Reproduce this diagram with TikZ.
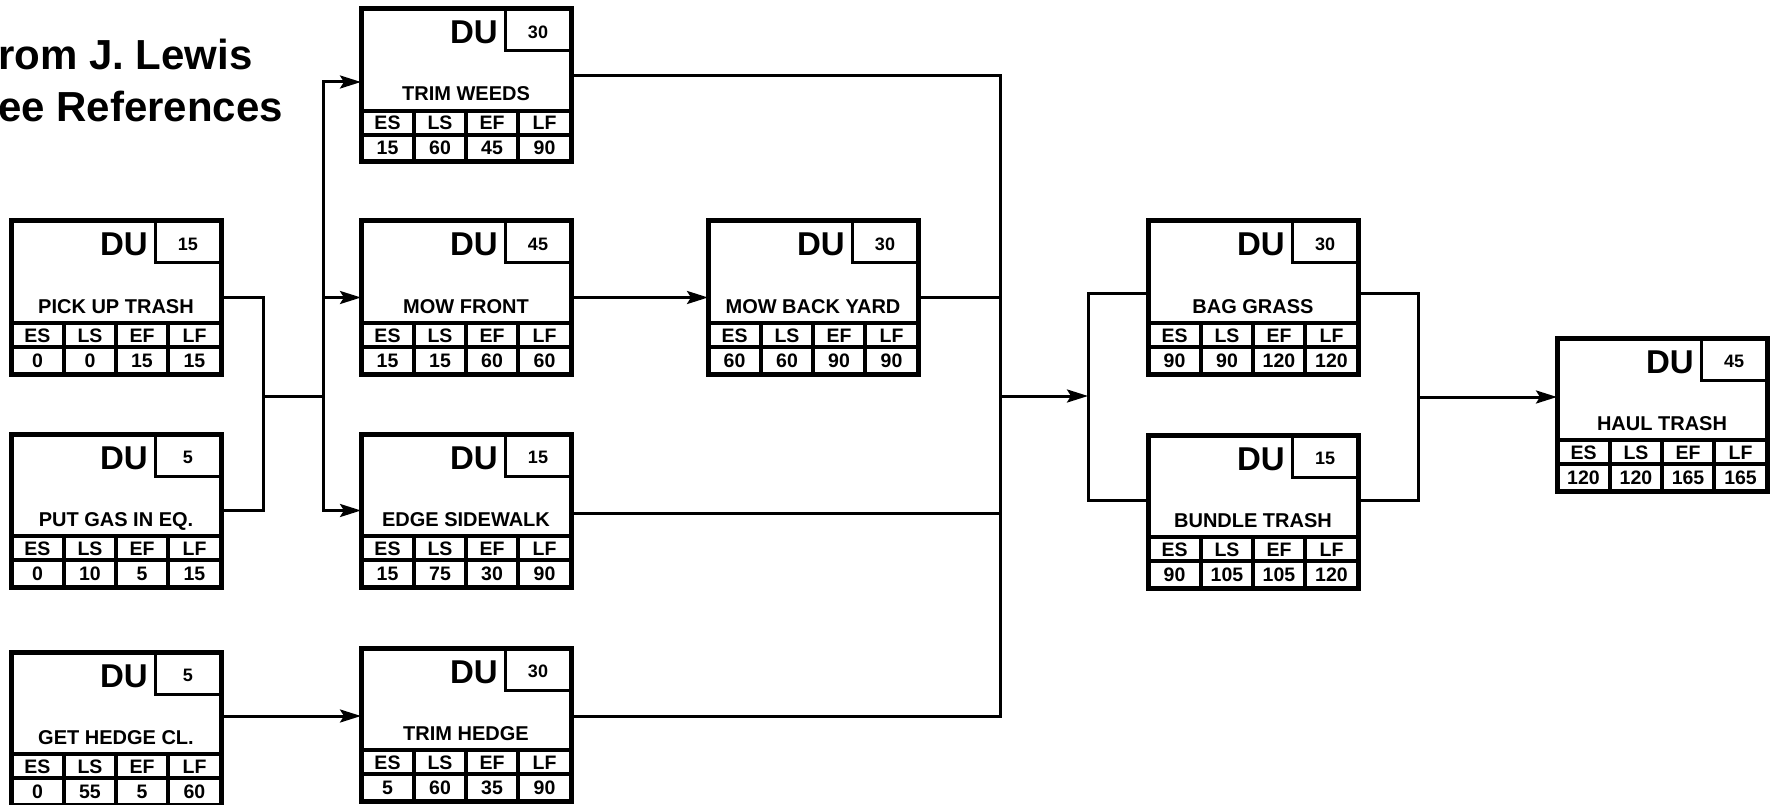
\documentclass[tikz,border=0pt]{standalone}
\usepackage{fontspec}
\setmainfont{Liberation Sans}
\usetikzlibrary{arrows.meta,calc}
\tikzset{
  abox/.style={draw, line width=5pt, fill=white, minimum width=210pt, minimum height=153pt,
    inner sep=0pt, outer sep=0pt, anchor=north west},
  dubox/.style={line width=3pt},
  tbl/.style={line width=4pt},
  dutxt/.style={anchor=base east, inner sep=0pt, font=\bfseries\fontsize{33}{33}\selectfont},
  durtxt/.style={anchor=base, inner sep=0pt, font=\bfseries\fontsize{18}{18}\selectfont},
  nametxt/.style={anchor=base, inner sep=0pt, font=\bfseries\fontsize{20}{20}\selectfont},
  celltxt/.style={anchor=base, inner sep=0pt, font=\bfseries\fontsize{19.5}{19.5}\selectfont},
  titletxt/.style={anchor=base west, inner sep=0pt, font=\bfseries\fontsize{42}{42}\selectfont},
  conn/.style={line width=3pt},
  arr/.style={conn, -{Stealth[length=21pt,width=13pt,inset=4pt]}}
}
\newcommand\actbox[9]{%
  \node[abox] (#1) at (#2,#3) {};
  \begin{scope}[shift={(#2,#3)}]
    \draw[dubox] (144,0) |- (210,42);
    \draw[tbl] (0,102) -- (210,102) (0,126) -- (210,126)
      (53,102) -- (53,153) (105,102) -- (105,153) (157,102) -- (157,153);
    \node[dutxt] (#1du) at (137,35) {DU};
    \node[durtxt] (#1d) at (177,29.5) {#4};
    \node[nametxt] (#1n) at (105,92) {#5};
    \node[celltxt] (#1ha) at (26.5,121) {ES};
    \node[celltxt] (#1hb) at (79,121) {LS};
    \node[celltxt] (#1hc) at (131,121) {EF};
    \node[celltxt] (#1hd) at (183.5,121) {LF};
    \node[celltxt] (#1va) at (26.5,146) {#6};
    \node[celltxt] (#1vb) at (79,146) {#7};
    \node[celltxt] (#1vc) at (131,146) {#8};
    \node[celltxt] (#1vd) at (183.5,146) {#9};
  \end{scope}}
\begin{document}
\begin{tikzpicture}[x=1pt,y=-1pt]
\useasboundingbox (0,0) rectangle (1781,805);
\node[titletxt] (t1) at (-2,70) {rom J. Lewis};
\node[titletxt] (t2) at (-2,122) {ee References};

\actbox{tw}{361}{9}{30}{TRIM WEEDS}{15}{60}{45}{90}
\actbox{pt}{11}{221}{15}{PICK UP TRASH}{0}{0}{15}{15}
\actbox{mf}{361}{221}{45}{MOW FRONT}{15}{15}{60}{60}
\actbox{mb}{708}{221}{30}{MOW BACK YARD}{60}{60}{90}{90}
\actbox{pg}{11}{434}{5}{PUT GAS IN EQ.}{0}{10}{5}{15}
\actbox{es}{361}{434}{15}{EDGE SIDEWALK}{15}{75}{30}{90}
\actbox{gh}{11}{652}{5}{GET HEDGE CL.}{0}{55}{5}{60}
\actbox{th}{361}{648}{30}{TRIM HEDGE}{5}{60}{35}{90}
\actbox{bg}{1148}{221}{30}{BAG GRASS}{90}{90}{120}{120}
\actbox{bt}{1148}{435}{15}{BUNDLE TRASH}{90}{105}{105}{120}
\actbox{ht}{1557}{338}{45}{HAUL TRASH}{120}{120}{165}{165}

\coordinate (j1) at (263,396);
\coordinate (s1) at (323,396);
\draw[conn] (pt.east) -| (j1);
\draw[conn] (pg.east) -| (j1);
\draw[conn] (j1) -- (s1);
\draw[arr] (s1) |- ([yshift=3.5pt]tw.west);
\draw[arr] (s1) |- (mf.west);
\draw[arr] (s1) |- (es.west);
\draw[arr] ([yshift=12.5pt]gh.east) -- ([yshift=8.5pt]th.west);
\draw[arr] (mf.east) -- (mb.west);

\coordinate (j2) at (1000,396);
\coordinate (s2) at (1088,396);
\draw[conn] ([yshift=9.5pt]tw.east) -| (j2);
\draw[conn] (mb.east) -| (j2);
\draw[conn] ([yshift=-2.5pt]es.east) -| (j2);
\draw[conn] ([yshift=8.5pt]th.east) -| (j2);
\draw[arr] (j2) -- (s2);
\draw[conn] ([yshift=4.5pt]bg.west) -| (s2);
\draw[conn] ([yshift=11.5pt]bt.west) -| (s2);

\coordinate (j3) at (1418,397);
\draw[conn] ([yshift=4.5pt]bg.east) -| (j3);
\draw[conn] ([yshift=11.5pt]bt.east) -| (j3);
\draw[arr] (j3) -- ([yshift=17.5pt]ht.west);
\end{tikzpicture}
\end{document}
